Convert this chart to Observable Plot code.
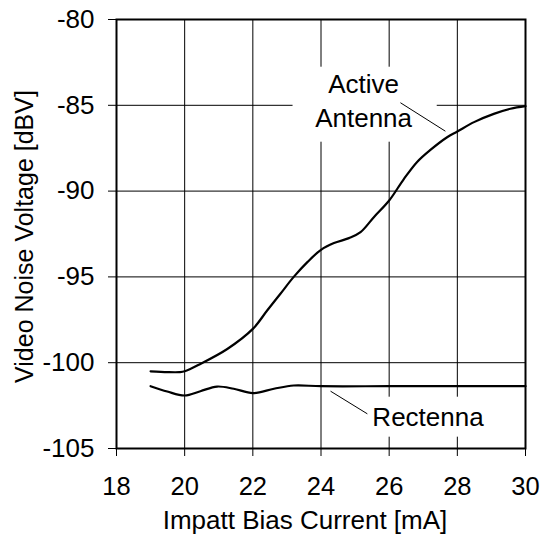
<!DOCTYPE html>
<html>
<head>
<meta charset="utf-8">
<script src="https://cdn.jsdelivr.net/npm/d3@7"></script>
<script src="https://cdn.jsdelivr.net/npm/@observablehq/plot@0.6"></script>
<style>
  html, body { margin: 0; padding: 0; background: #fff; }
  #chart { width: 541px; height: 540px; }
</style>
</head>
<body>
<div id="chart"></div>
<script>
const xTicks = [18, 20, 22, 24, 26, 28, 30];
const yTicks = [-80, -85, -90, -95, -100, -105];

const activeX = [19.0, 19.5, 19.85, 20.0, 20.46, 21.25, 22.0, 22.42, 22.81, 23.2, 23.6, 24.0, 24.38, 24.82, 25.16, 25.55, 26.0, 26.43, 26.82, 27.21, 27.7, 28.0, 28.49, 29.07, 29.56, 30.0];
const activeY = [-100.5, -100.55, -100.55, -100.5, -100.07, -99.2, -98.03, -96.96, -95.98, -95.0, -94.14, -93.42, -93.03, -92.74, -92.39, -91.52, -90.55, -89.3, -88.3, -87.6, -86.86, -86.53, -85.98, -85.5, -85.2, -85.05];

const rectennaX = [19.0, 19.49, 20.0, 20.46, 20.95, 21.44, 22.0, 22.62, 23.2, 24.0, 26.0, 28.0, 30.0];
const rectennaY = [-101.37, -101.68, -101.91, -101.66, -101.39, -101.52, -101.77, -101.52, -101.33, -101.37, -101.37, -101.37, -101.37];

// annotation labels (data coordinates)
const labelText = ["Active\nAntenna", "Rectenna"];
const labelX = [25.25, 27.14];
const labelY = [-86.24, -103.66];
const boxX1 = [23.18, 25.31];
const boxX2 = [27.41, 28.97];
const boxY1 = [-82.78, -102.01];
const boxY2 = [-87.15, -104.34];
const leaderX1 = [26.33, 24.28];
const leaderY1 = [-84.85, -101.66];
const leaderX2 = [27.65, 25.36];
const leaderY2 = [-86.51, -102.98];

const active = activeX.map((x, i) => ({x, y: activeY[i]}));
const rectenna = rectennaX.map((x, i) => ({x, y: rectennaY[i]}));
const labels = labelText.map((t, i) => ({t, x: labelX[i], y: labelY[i]}));
const boxes = boxX1.map((x1, i) => ({x1, x2: boxX2[i], y1: boxY1[i], y2: boxY2[i]}));
const leaders = leaderX1.map((x1, i) => ({x1, y1: leaderY1[i], x2: leaderX2[i], y2: leaderY2[i]}));

const font = "'Liberation Sans', Arial, sans-serif";

const chart = Plot.plot({
  width: 541,
  height: 540,
  marginLeft: 116,
  marginRight: 16,
  marginTop: 19,
  marginBottom: 92,
  style: { fontFamily: font, fontSize: "26px", background: "white", color: "black" },
  x: { domain: [18, 30], ticks: xTicks },
  y: { domain: [-105, -80], ticks: yTicks },
  marks: [
    Plot.gridX(xTicks, { stroke: "black", strokeOpacity: 1, strokeWidth: 1 }),
    Plot.gridY(yTicks, { stroke: "black", strokeOpacity: 1, strokeWidth: 1 }),
    Plot.rect(boxes, { x1: "x1", x2: "x2", y1: "y1", y2: "y2", fill: "white" }),
    Plot.line(active, { x: "x", y: "y", stroke: "black", strokeWidth: 2.2, curve: "catmull-rom" }),
    Plot.line(rectenna, { x: "x", y: "y", stroke: "black", strokeWidth: 2.2, curve: "catmull-rom" }),
    Plot.link(leaders, { x1: "x1", y1: "y1", x2: "x2", y2: "y2", stroke: "black", strokeWidth: 1 }),
    Plot.text(labels, { x: "x", y: "y", text: "t", textAnchor: "middle", lineAnchor: "bottom", lineHeight: 1.3, fontSize: 26, fill: "black" }),
    Plot.frame({ stroke: "black", strokeWidth: 2 }),
    Plot.axisX(xTicks, { tickSize: 8, tickPadding: 20, fontSize: 25.5, label: null }),
    Plot.axisY(yTicks, { tickSize: 8, tickPadding: 14, fontSize: 26, label: null, tickFormat: d => String(d) }),
    Plot.text(["Impatt Bias Current [mA]"], { frameAnchor: "bottom", textAnchor: "middle", dx: -16, dy: 72, lineAnchor: "middle", fontSize: 26, fill: "black" }),
    Plot.text(["Video Noise Voltage [dBV]"], { frameAnchor: "left", textAnchor: "middle", dx: -91.5, dy: 2.5, rotate: -90, lineAnchor: "middle", fontSize: 25, fill: "black" })
  ]
});

document.getElementById("chart").appendChild(chart);
</script>
</body>
</html>
